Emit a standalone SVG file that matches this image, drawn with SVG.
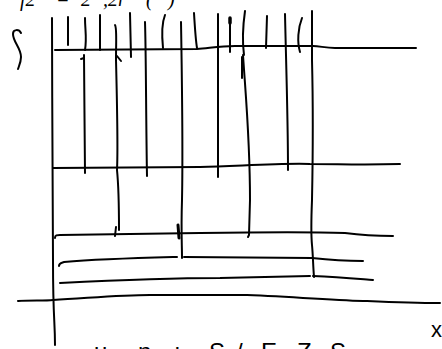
<svg xmlns="http://www.w3.org/2000/svg" width="442" height="349" viewBox="0 0 442 349">
<style>
.s{fill:none;stroke:#000;stroke-width:2;stroke-linecap:round;stroke-linejoin:round}
.t{font-family:"Liberation Serif",serif;font-style:italic;font-size:20px;fill:#000}
.h{font-family:"Liberation Sans",sans-serif;font-size:24px;fill:#000}
</style>
<rect width="442" height="349" fill="#fff"/>
<g id="top-text">
<text class="t" x="20" y="6">f2</text>
<text class="t" x="56" y="6">=</text>
<text class="t" x="81" y="6">2</text>
<text class="t" x="103" y="6">,2r</text>
<text class="t" x="146" y="6">(</text>
<text class="t" x="168" y="6">)</text>
</g>
<g id="bottom-text">
<text class="h" x="94" y="360">u</text>
<text class="h" x="138" y="360">n</text>
<text class="h" x="174" y="360">ı</text>
<text class="h" x="209" y="360">S</text>
<text class="h" x="236" y="360">/</text>
<text class="h" x="261" y="360">E</text>
<text class="h" x="297" y="360">Z</text>
<text class="h" x="330" y="360">S</text>
<text class="h" x="431" y="337" style="font-size:22px">x</text>
</g>
<g id="strokes" class="s">
<path d="M21,33 C19,29 13,29 13,34 C13,42 21,48 21,57 C21,62 19,66 18,69"/>
<path d="M52,18 C52,100 53,200 53,260 S55,320 55,345"/>
<path d="M55,50 L197,49 C210,48 220,46 235,46 L313,46 C320,46 325,48 335,48 L416,48"/>
<path d="M53,168 L200,167 C240,166 280,163 310,164 C340,164 360,165 400,164"/>
<path d="M55,238 C55,235 57,235 60,235 L200,233 C260,232 320,232 345,233 C360,235 375,236 393,236"/>
<path d="M59,266 C59,263 61,263 64,262 C100,259 140,258 177,257"/>
<path d="M184,257 L312,258 C330,260 350,261 363,261"/>
<path d="M60,283 C100,281 180,278 220,278 L310,276"/>
<path d="M313,276 C340,277 360,279 373,280"/>
<path d="M18,301 C30,300 45,301 53,300 C90,298 120,295 150,295 L247,295 C300,297 340,301 367,301 C390,302 420,303 440,303"/>
<path d="M68,17 L68,45"/>
<path d="M85,18 C85,30 87,38 85,50"/>
<path d="M84,55 C84,90 85,140 85,173 M84,58 L81,59"/>
<path d="M100,15 L100,50"/>
<path d="M115,25 C117,28 116,40 116,60 C117,100 118,150 117,170 C119,190 119,210 119,230 M117,56 L121,61 M116,227 L115,236"/>
<path d="M130,13 L131,57"/>
<path d="M145,22 C146,50 146,120 147,176"/>
<path d="M165,15 C161,25 162,38 163,48"/>
<path d="M181,22 C182,80 183,150 182,200 C181,230 182,245 182,258"/>
<path d="M178,225 L179,238" style="stroke-width:3"/>
<path d="M194,13 C195,30 196,42 197,48"/>
<path d="M218,14 L218,177"/>
<path d="M230,18 L230,52 M230,18 L230,23" />
<path d="M230,18 L230,23" style="stroke-width:3.5"/>
<path d="M245,11 C243,25 242,40 244,55"/>
<path d="M242,57 L242,78"/>
<path d="M243,55 C246,100 250,140 250,200 L249,235 L248,237"/>
<path d="M267,16 L266,48"/>
<path d="M285,14 C286,60 288,120 288,170"/>
<path d="M302,18 C298,28 297,42 300,52"/>
<path d="M312,11 L312,60 C313,100 313,150 312,200 C311,225 311,235 312,245 C313,255 313,265 314,277"/>
</g>
</svg>
